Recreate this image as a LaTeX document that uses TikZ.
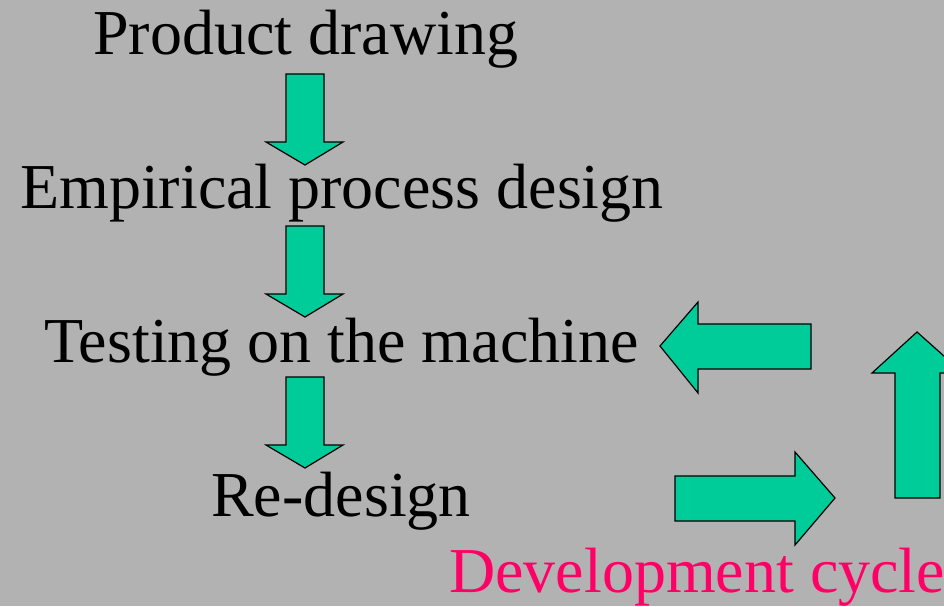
\documentclass[tikz,border=0pt]{standalone}
\usepackage{fontspec}
\setmainfont{Liberation Serif}
\definecolor{bggray}{HTML}{B2B2B2}
\definecolor{arrowgreen}{HTML}{00CC99}
\definecolor{cyclepink}{HTML}{FF0066}
\begin{document}
\begin{tikzpicture}[x=0.75pt,y=-0.75pt,
  label/.style={anchor=base west,inner sep=0pt,font=\fontsize{48}{56}\selectfont},
  blockarrow/.style={fill=arrowgreen,draw=black,line width=0.9pt,line join=miter}]
% canvas
\fill[bggray] (0,0) rectangle (944,606);
\useasboundingbox (0,0) rectangle (944,606);
\clip (0,0) rectangle (944,606);

% process steps
\node[label] (prod) at (93,55) {Product drawing};
\node[label] (emp)  at (20,208) {Empirical process design};
\node[label] (test) at (44,362) {Testing on the machine};
\node[label] (redes) at (211,516) {Re-design};
\node[label,text=cyclepink] (cycle) at (449,592) {Development cycle};

% downward block arrows between the steps
\foreach \t in {74,226,377}{
  \draw[blockarrow] (286,\t) -- (324,\t) -- (324,\t+68) -- (343,\t+68)
     -- (305,\t+91) -- (266,\t+68) -- (286,\t+68) -- cycle;
}

% block arrows of the development cycle
\draw[blockarrow] (811,324) -- (698,324) -- (698,302) -- (660,346)
   -- (698,393) -- (698,369) -- (811,369) -- cycle;
\draw[blockarrow] (675,476) -- (795,476) -- (795,452) -- (835,498)
   -- (795,545) -- (795,521) -- (675,521) -- cycle;
\draw[blockarrow] (895,498) -- (895,373) -- (872,373) -- (917,332)
   -- (963,373) -- (940,373) -- (940,498) -- cycle;
\end{tikzpicture}
\end{document}
